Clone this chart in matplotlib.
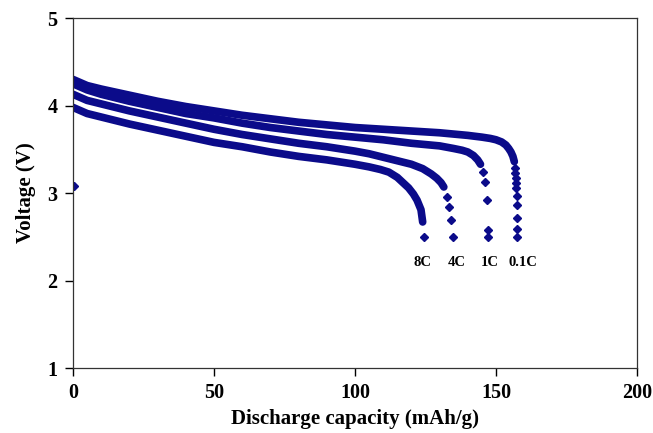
import matplotlib.pyplot as plt
import numpy as np

# discharge curves, continuous (dense) part
cap_01c = [0, 5, 10, 20, 30, 40, 50, 60, 70, 80, 90, 100, 110, 120, 130, 140, 145, 148, 150, 152, 153.5, 154.5, 155.3, 156, 156.5]
v_01c = [4.30, 4.23, 4.19, 4.12, 4.05, 3.99, 3.94, 3.89, 3.85, 3.81, 3.78, 3.75, 3.73, 3.71, 3.69, 3.66, 3.64, 3.625, 3.61, 3.585, 3.55, 3.51, 3.47, 3.42, 3.36]

cap_1c = [0, 5, 10, 20, 30, 40, 50, 60, 70, 80, 90, 100, 110, 120, 130, 135, 138, 140, 142, 143.5, 144.5]
v_1c = [4.25, 4.18, 4.13, 4.05, 3.98, 3.91, 3.86, 3.80, 3.75, 3.71, 3.67, 3.64, 3.61, 3.57, 3.54, 3.51, 3.49, 3.47, 3.43, 3.38, 3.33]

cap_4c = [0, 5, 10, 20, 30, 40, 50, 60, 70, 80, 90, 100, 105, 110, 115, 120, 124, 127, 129, 130.5, 131.5]
v_4c = [4.13, 4.06, 4.02, 3.94, 3.87, 3.80, 3.73, 3.67, 3.62, 3.57, 3.53, 3.48, 3.45, 3.41, 3.37, 3.33, 3.28, 3.22, 3.17, 3.12, 3.07]

cap_8c = [0, 5, 10, 20, 30, 40, 50, 60, 70, 80, 90, 100, 105, 109, 112, 115, 117, 119, 120.7, 122, 123.4, 124]
v_8c = [3.98, 3.91, 3.87, 3.79, 3.72, 3.65, 3.58, 3.53, 3.47, 3.42, 3.38, 3.33, 3.30, 3.27, 3.24, 3.18, 3.12, 3.06, 2.99, 2.92, 2.81, 2.67]

# sparse points at the end of discharge
tail_cap_01c = [156.8, 156.9, 157.0, 157.1, 157.2, 157.3, 157.4, 157.4, 157.4, 157.4]
tail_v_01c = [3.29, 3.23, 3.17, 3.11, 3.06, 2.97, 2.86, 2.72, 2.59, 2.50]
tail_cap_1c = [145.4, 146.1, 146.8, 147.2, 147.2]
tail_v_1c = [3.24, 3.13, 2.92, 2.58, 2.50]
tail_cap_4c = [132.6, 133.3, 134.2, 134.8]
tail_v_4c = [2.95, 2.84, 2.69, 2.50]
tail_cap_8c = [124.5]
tail_v_8c = [2.50]

stray_cap = [0.3]
stray_v = [3.08]

rate_labels = ["8C", "4C", "1C", "0.1C"]
label_cap = [124, 136, 147.8, 159.6]
label_v = [2.21, 2.21, 2.21, 2.21]

color = '#0b0b8a'
fig = plt.figure(figsize=(6.53, 4.33), dpi=100)
ax = fig.add_axes([0.1118, 0.150, 0.8637, 0.808])

for c, v in [(cap_01c, v_01c), (cap_1c, v_1c), (cap_4c, v_4c), (cap_8c, v_8c)]:
    ax.plot(c, v, color=color, linewidth=5.5, solid_capstyle='round', solid_joinstyle='round')

for c, v in [(tail_cap_01c, tail_v_01c), (tail_cap_1c, tail_v_1c),
             (tail_cap_4c, tail_v_4c), (tail_cap_8c, tail_v_8c), (stray_cap, stray_v)]:
    ax.plot(c, v, linestyle='none', marker='D', markersize=4.5, color=color)

for lab, x, y in zip(rate_labels, label_cap, label_v):
    ax.text(x, y, lab, ha='center', va='center', fontsize=10.5, fontweight='bold',
            family='Liberation Serif')

ax.set_xlim(0, 200)
ax.set_ylim(1, 5)
ax.set_xticks([0, 50, 100, 150, 200])
ax.set_yticks([1, 2, 3, 4, 5])
ax.tick_params(direction='out', length=6, width=1, labelsize=14.5, pad=5)
for lab in ax.get_xticklabels() + ax.get_yticklabels():
    lab.set_fontweight('bold')
    lab.set_family('Liberation Serif')
ax.set_xlabel('Discharge capacity (mAh/g)', fontsize=15, fontweight='bold',
              family='Liberation Serif', labelpad=4)
ax.set_ylabel('Voltage (V)', fontsize=15, fontweight='bold',
              family='Liberation Serif', labelpad=8)
for s in ax.spines.values():
    s.set_linewidth(0.9)
    s.set_color('#333333')

fig.savefig('out.png', dpi=100)
